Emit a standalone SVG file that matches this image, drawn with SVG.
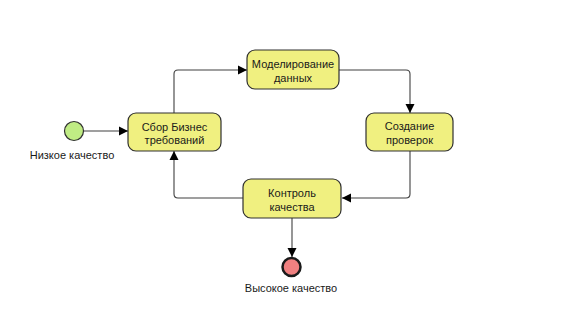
<svg xmlns="http://www.w3.org/2000/svg" width="575" height="313" viewBox="0 0 575 313">
<style>
.box{fill:#f0f080;stroke:#303030;stroke-width:1.2}
.t{font-family:"Liberation Sans",Arial,sans-serif;font-size:11px;fill:#1a1a1a;text-anchor:middle}
.c{fill:none;stroke:#404040;stroke-width:1.1}
</style>
<defs>
<marker id="arr" markerWidth="10" markerHeight="10" refX="9" refY="5" orient="auto" markerUnits="userSpaceOnUse">
<path d="M0,0.5 L9,5 L0,9.5 Z" fill="#000"/>
</marker>
</defs>
<rect width="575" height="313" fill="#fff"/>
<g id="connectors">
<path class="c" d="M84,131 H128" marker-end="url(#arr)"/>
<path class="c" d="M174,113 V74 Q174,70 178,70 H247" marker-end="url(#arr)"/>
<path class="c" d="M339,70 H406 Q410,70 410,74 V113" marker-end="url(#arr)"/>
<path class="c" d="M410,151 V194 Q410,198 406,198 H342" marker-end="url(#arr)"/>
<path class="c" d="M243,198 H178 Q174,198 174,194 V151" marker-end="url(#arr)"/>
<path class="c" d="M292,218 V257" marker-end="url(#arr)"/>
</g>
<g id="start">
<circle cx="74" cy="131" r="9.5" fill="#c0ec84" stroke="#303030" stroke-width="1.2"/>
<text class="t" x="72" y="159">Низкое качество</text>
</g>
<g id="sbor">
<rect class="box" x="128" y="113" width="93" height="38" rx="8"/>
<text class="t" x="174.5" y="130.5">Сбор Бизнес</text>
<text class="t" x="174.5" y="144">требований</text>
</g>
<g id="model">
<rect class="box" x="247" y="50" width="92" height="39" rx="8"/>
<text class="t" x="293" y="68">Моделирование</text>
<text class="t" x="293" y="82">данных</text>
</g>
<g id="sozdanie">
<rect class="box" x="366" y="113" width="87" height="38" rx="8"/>
<text class="t" x="409.5" y="130">Создание</text>
<text class="t" x="409.5" y="144">проверок</text>
</g>
<g id="kontrol">
<rect class="box" x="243" y="179" width="98" height="39" rx="8"/>
<text class="t" x="292" y="197">Контроль</text>
<text class="t" x="292" y="211">качества</text>
</g>
<g id="end">
<circle cx="291.5" cy="267" r="9" fill="#f08080" stroke="#1a1a1a" stroke-width="2.5"/>
<text class="t" x="291" y="292">Высокое качество</text>
</g>
</svg>
